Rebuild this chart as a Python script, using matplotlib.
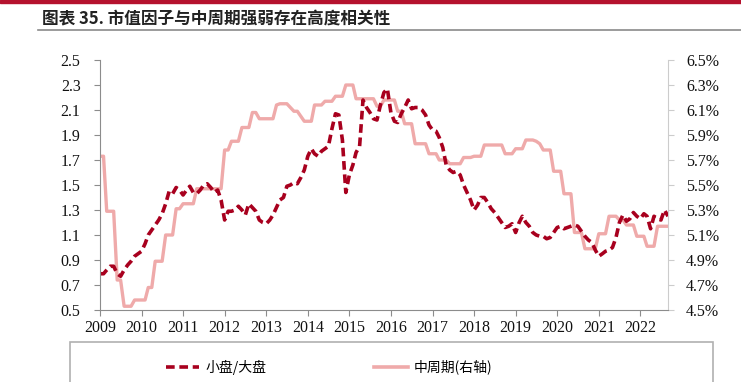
import numpy as np
import pandas as pd
import matplotlib
matplotlib.use("Agg")
import matplotlib.pyplot as plt
from matplotlib.patches import Rectangle
from matplotlib.lines import Line2D
from matplotlib.ticker import FuncFormatter, FixedLocator
import matplotlib.dates as mdates

plt.rcParams['font.family'] = ['Liberation Serif', 'Noto Sans CJK SC', 'DejaVu Sans']

# monthly, 2009-01 .. 2022-09
dates = pd.date_range("2009-01-01", "2022-09-01", freq="MS")

# 小盘/大盘 (left axis)
small_large = [
    0.79, 0.79, 0.82, 0.85, 0.85, 0.79, 0.77, 0.82, 0.86, 0.89, 0.93, 0.95,
    0.97, 1.03, 1.10, 1.14, 1.18, 1.22, 1.27, 1.35, 1.45, 1.43, 1.48, 1.46,
    1.42, 1.46, 1.49, 1.44, 1.43, 1.46, 1.50, 1.51, 1.48, 1.44, 1.46, 1.38,
    1.22, 1.29, 1.29, 1.30, 1.33, 1.30, 1.26, 1.35, 1.32, 1.29, 1.22, 1.20,
    1.19, 1.22, 1.26, 1.32, 1.38, 1.40, 1.49, 1.50, 1.52, 1.51, 1.56, 1.62,
    1.73, 1.79, 1.75, 1.73, 1.77, 1.79, 1.81, 1.95, 2.07, 2.06, 1.86, 1.44,
    1.58, 1.66, 1.76, 1.81, 2.18, 2.12, 2.08, 2.03, 2.02, 2.14, 2.24, 2.27,
    2.08, 2.01, 2.00, 2.07, 2.12, 2.18, 2.11, 2.12, 2.12, 2.10, 2.06, 1.98,
    1.94, 1.93, 1.88, 1.80, 1.66, 1.62, 1.60, 1.61, 1.58, 1.50, 1.44, 1.38,
    1.30, 1.34, 1.40, 1.40, 1.36, 1.31, 1.28, 1.24, 1.20, 1.16, 1.17, 1.19,
    1.12, 1.20, 1.25, 1.20, 1.17, 1.12, 1.10, 1.09, 1.09, 1.07, 1.08, 1.12,
    1.16, 1.17, 1.15, 1.16, 1.17, 1.18, 1.17, 1.13, 1.09, 1.06, 1.04, 0.98,
    0.93, 0.95, 0.97, 0.98, 1.00, 1.08, 1.20, 1.26, 1.21, 1.23, 1.28, 1.25,
    1.23, 1.27, 1.25, 1.15, 1.25, 1.23, 1.22, 1.30, 1.25,
]

# 中周期 (right axis, %)
mid_cycle = [
    5.73, 5.73, 5.29, 5.29, 5.29, 4.74, 4.74, 4.53, 4.53, 4.53, 4.58, 4.58,
    4.58, 4.58, 4.68, 4.68, 4.89, 4.89, 4.89, 5.10, 5.10, 5.10, 5.31, 5.31,
    5.35, 5.35, 5.35, 5.35, 5.47, 5.47, 5.47, 5.47, 5.47, 5.47, 5.47, 5.47,
    5.78, 5.78, 5.85, 5.85, 5.85, 5.96, 5.96, 5.96, 6.08, 6.08, 6.03, 6.03,
    6.03, 6.03, 6.03, 6.14, 6.15, 6.15, 6.15, 6.12, 6.09, 6.09, 6.05, 6.01,
    6.01, 6.01, 6.14, 6.14, 6.14, 6.17, 6.17, 6.17, 6.21, 6.21, 6.21, 6.30,
    6.30, 6.30, 6.19, 6.19, 6.19, 6.19, 6.19, 6.19, 6.13, 6.13, 6.18, 6.18,
    6.18, 6.18, 6.09, 6.09, 5.99, 5.99, 5.99, 5.83, 5.83, 5.83, 5.83, 5.75,
    5.75, 5.75, 5.70, 5.70, 5.70, 5.67, 5.67, 5.67, 5.67, 5.72, 5.72, 5.72,
    5.73, 5.73, 5.73, 5.82, 5.82, 5.82, 5.82, 5.82, 5.82, 5.75, 5.75, 5.75,
    5.79, 5.79, 5.79, 5.86, 5.86, 5.86, 5.85, 5.83, 5.78, 5.78, 5.78, 5.61,
    5.61, 5.61, 5.43, 5.43, 5.43, 5.12, 5.12, 5.12, 4.99, 4.99, 4.99, 4.99,
    5.11, 5.11, 5.11, 5.25, 5.25, 5.25, 5.22, 5.22, 5.18, 5.18, 5.18, 5.09,
    5.09, 5.09, 5.01, 5.01, 5.01, 5.17, 5.17, 5.17, 5.17,
]

left_ticks = [0.5, 0.7, 0.9, 1.1, 1.3, 1.5, 1.7, 1.9, 2.1, 2.3, 2.5]
right_ticks = [4.5, 4.7, 4.9, 5.1, 5.3, 5.5, 5.7, 5.9, 6.1, 6.3, 6.5]

title = "图表 35. 市值因子与中周期强弱存在高度相关性"
dark_red = "#A8001E"
pink = "#EFAAAA"

W, H = 741, 382
fig = plt.figure(figsize=(W / 100, H / 100), dpi=100)

# header decoration
fig.patches.append(Rectangle((0, 1 - 3 / H), 1, 3 / H, transform=fig.transFigure,
                             color="#B5122E", zorder=0))
fig.add_artist(Line2D([38 / W, 1], [1 - 30 / H, 1 - 30 / H], transform=fig.transFigure,
                      color="#8a8a8a", lw=1.2))
fig.text(42 / W, 1 - 19 / H, title, fontsize=12, fontweight="bold",
         family=["Noto Sans CJK SC", "DejaVu Sans"], va="center", ha="left", color="#222222")

ax = fig.add_axes([100 / W, 1 - 310 / H, (668 - 100) / W, (310 - 60) / H])
ax2 = ax.twinx()

ax2.plot(dates, mid_cycle, color=pink, lw=2.4, solid_joinstyle="round")
ax.plot(dates, small_large, color=dark_red, lw=2.6, dashes=(2.4, 1.3))

ax.set_zorder(ax2.get_zorder() + 1)
ax.patch.set_visible(False)

ax.set_xlim(dates[0], dates[-1])
ax.set_ylim(0.5, 2.5)
ax2.set_ylim(4.5, 6.5)
ax.yaxis.set_major_locator(FixedLocator(left_ticks))
ax2.yaxis.set_major_locator(FixedLocator(right_ticks))
ax.yaxis.set_major_formatter(FuncFormatter(lambda v, p: f"{v:.1f}"))
ax2.yaxis.set_major_formatter(FuncFormatter(lambda v, p: f"{v:.1f}%"))
ax.xaxis.set_major_locator(mdates.YearLocator())
ax.xaxis.set_major_formatter(mdates.DateFormatter("%Y"))

for a in (ax, ax2):
    a.spines["top"].set_visible(False)
ax.spines["right"].set_visible(False)
ax2.spines["left"].set_visible(False)
ax2.spines["bottom"].set_visible(False)
ax.spines["left"].set_color("#8c8c8c")
ax.spines["bottom"].set_color("#8c8c8c")
ax2.spines["right"].set_color("#cccccc")

ax.tick_params(axis="y", length=4, color="#8c8c8c", pad=10, labelsize=11.5, labelcolor="#111111")
ax.tick_params(axis="x", length=4, color="#8c8c8c", pad=3, labelsize=11.5, labelcolor="#111111")
ax2.tick_params(axis="y", length=4, color="#cccccc", pad=9, labelsize=11.5, labelcolor="#111111")

# legend box, running off the bottom of the image
fig.patches.append(Rectangle((70 / W, -0.2), (713 - 70) / W, 0.2 + 1 - 342 / H,
                             transform=fig.transFigure, fill=False, ec="#b0b0b0", lw=1.2))
handles = [
    Line2D([], [], color=dark_red, lw=2.6, dashes=(2.4, 1.3)),
    Line2D([], [], color=pink, lw=2.6),
]
fig.legend(handles, ["小盘/大盘", "中周期(右轴)"], loc="center", ncol=2,
           bbox_to_anchor=(329 / W, 1 - 367 / H), frameon=False,
           prop={"family": ["Noto Sans CJK SC", "DejaVu Sans"], "size": 10},
           handlelength=2.4, handletextpad=0.4, columnspacing=7.8)

fig.savefig("out.png", dpi=100)
